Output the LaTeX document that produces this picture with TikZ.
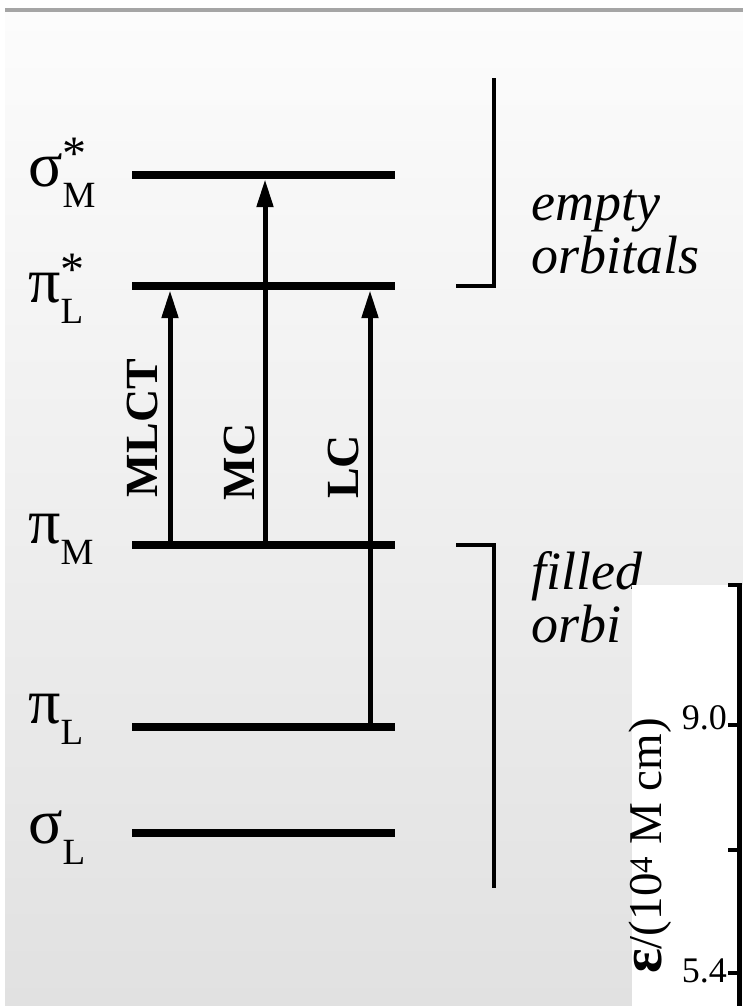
\documentclass[tikz,border=0pt]{standalone}
\usepackage{fontspec}
\setmainfont{Liberation Serif}[ItalicFont={Liberation Serif Italic}, BoldFont={Liberation Serif Bold}]
\usetikzlibrary{arrows.meta}
\definecolor{bgtop}{RGB}{252,252,252}
\definecolor{bgbot}{RGB}{225,225,225}
\definecolor{rimgray}{RGB}{165,165,165}
\newcommand{\orb}[3]{#1\makebox[0pt][l]{\raisebox{0.26em}{\fontsize{48}{48}\selectfont #3}}\raisebox{-0.34em}{\fontsize{37}{37}\selectfont #2}}

\begin{document}
\begin{tikzpicture}[x=1pt, y=-1pt, >={Triangle[length=28pt,width=16pt]},
  level/.style={fill=black, inner sep=0pt, minimum width=263pt, minimum height=8pt},
  trans/.style={->, line width=5pt},
  orblabel/.style={anchor=base west, inner sep=0pt, font=\fontsize{64}{64}\selectfont},
  translabel/.style={rotate=90, inner sep=0pt, font=\fontsize{46}{46}\selectfont\bfseries},
  note/.style={anchor=base west, inner sep=0pt, font=\fontsize{54}{54}\selectfont\itshape},
  brace/.style={line width=4pt}]
  \useasboundingbox (0,0) rectangle (743,1006);
  \fill[white] (0,0) rectangle (743,1006);
  \shade[top color=bgtop, bottom color=bgbot] (5,12) rectangle (743,1006);
  \draw[rimgray, line width=4pt] (5,10) -- (743,10);

  \node[level] (sigM) at (263.5,175) {};
  \node[level] (piL*) at (263.5,286) {};
  \node[level] (piM) at (263.5,545) {};
  \node[level] (piL) at (263.5,727) {};
  \node[level] (sigL) at (263.5,833) {};

  \node[orblabel] (tsigM) at (28,186) {\orb{σ}{M}{*}};
  \node[orblabel] (tpiL*) at (28,302) {\orb{π}{L}{*}};
  \node[orblabel] (tpiM) at (28,543) {\orb{π}{M}{}};
  \node[orblabel] (tpiL) at (28,723) {\orb{π}{L}{}};
  \node[orblabel] (tsigL) at (28,843) {\orb{σ}{L}{}};

  \draw[trans] ([xshift=-93.5pt]piM.north) -- ([xshift=-93.5pt]piL*.south);
  \draw[trans] ([xshift=1.5pt]piM.north) -- ([xshift=1.5pt]sigM.south);
  \draw[trans] ([xshift=106.5pt]piL.north) -- ([xshift=106.5pt]piL*.south);
  \node[translabel] (mlct) at (142,428) {MLCT};
  \node[translabel] (mc) at (239,462) {MC};
  \node[translabel] (lc) at (343,467) {LC};

  \draw[brace] (456,286) -- (494,286) -- (494,78);
  \draw[brace] (456,545) -- (494,545) -- (494,888);
  \node[note] (empty1) at (531,220) {empty};
  \node[note] (empty2) at (531,273) {orbitals};
  \node[note] (filled1) at (531,589) {filled};
  \node[note] (filled2) at (531,642) {orbi};

  % axis fragment
  \fill[white] (632,585) rectangle (743,1006);
  \draw[line width=4.5pt] (739.5,1006) -- (739.5,585) -- (728,585);
  \foreach \ty in {725,850,973} \draw[line width=3.5pt] (728,\ty) -- (739.5,\ty);
  \node[anchor=base east, inner sep=0pt, font=\fontsize{36}{36}\selectfont] (t90) at (727,729) {9.0};
  \node[anchor=base east, inner sep=0pt, font=\fontsize{36}{36}\selectfont] (t54) at (727,982) {5.4};
  \node[rotate=90, inner sep=0pt, font=\fontsize{47}{47}\selectfont] (ylab) at (650,846) {{\fontsize{58}{58}\selectfont\textbf{ε}}/(10\textsuperscript{4} M cm)};
\end{tikzpicture}
\end{document}
